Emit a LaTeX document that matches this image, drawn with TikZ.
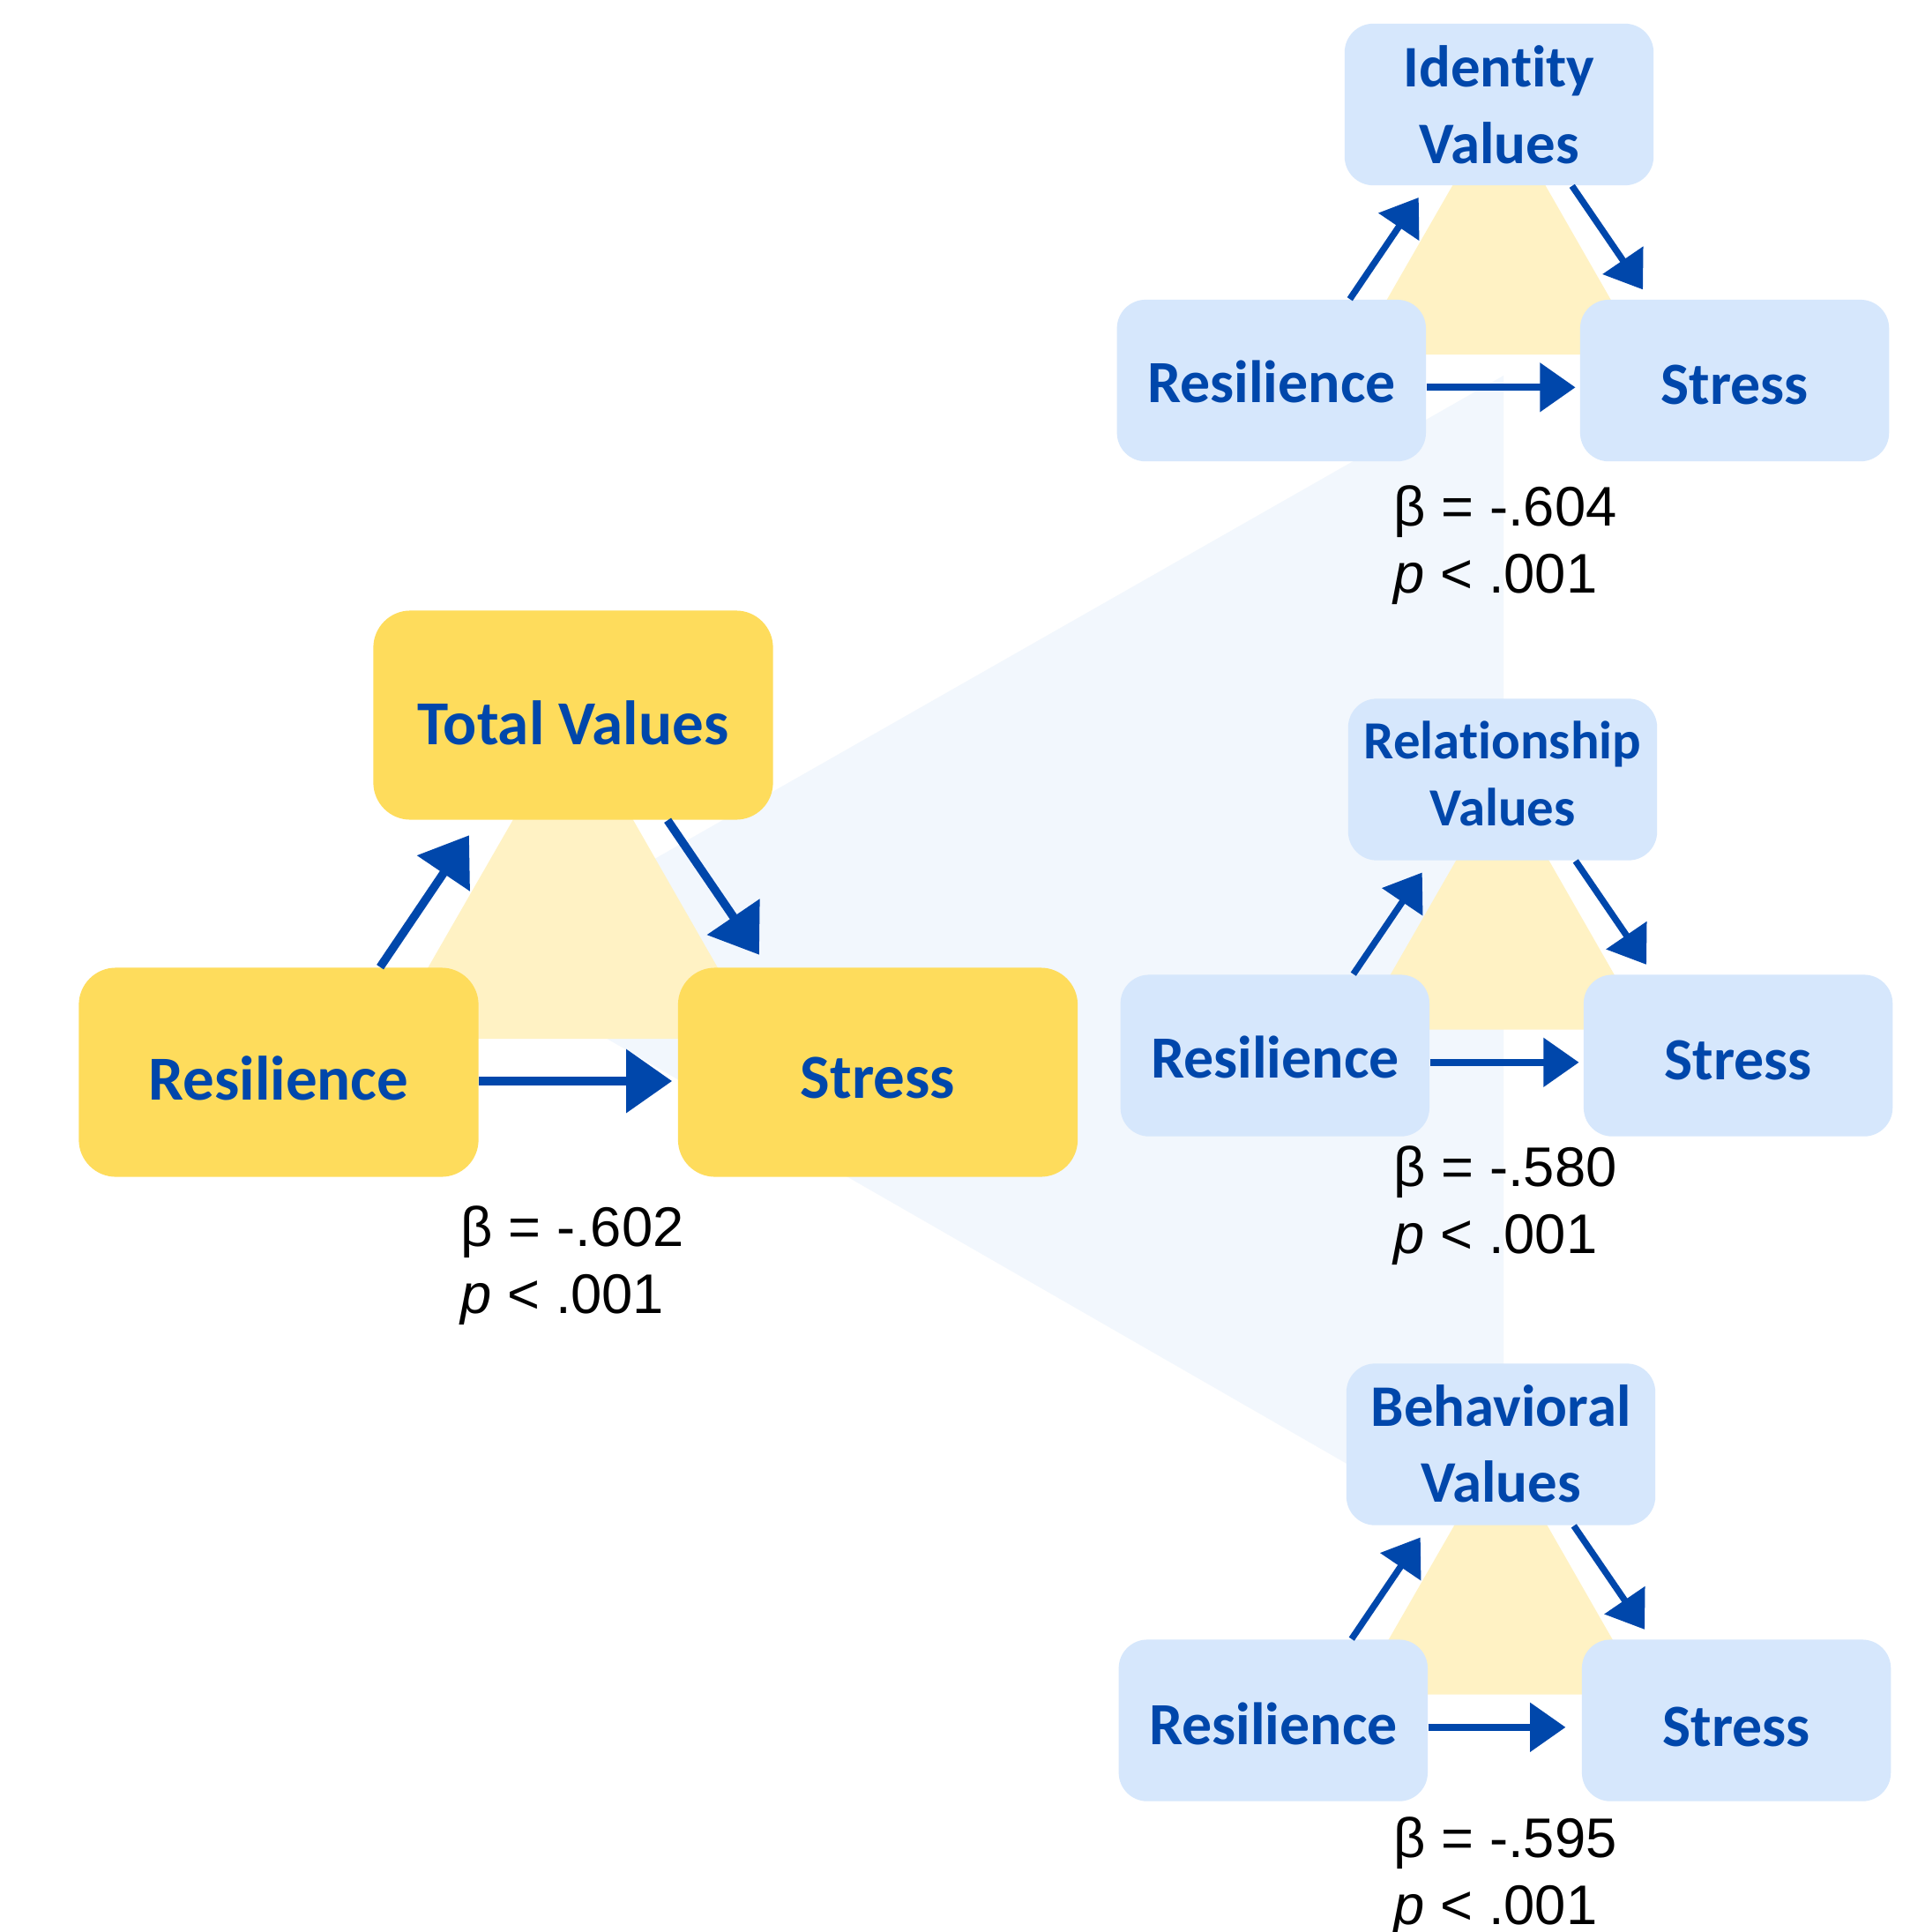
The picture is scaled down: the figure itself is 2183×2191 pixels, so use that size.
\documentclass[tikz,border=0pt]{standalone}
\usepackage{fontspec}
\setmainfont{Liberation Sans}
\newfontfamily\boxfont[Ligatures={NoCommon}]{Carlito}
\usetikzlibrary{arrows.meta}
\definecolor{boxyellow}{HTML}{FEDC5C}
\definecolor{triyellow}{HTML}{FFF2C4}
\definecolor{boxblue}{HTML}{D6E7FC}
\definecolor{darkblue}{HTML}{0047AB}
\definecolor{fanblue}{HTML}{F2F7FD}
\tikzset{
  lbl/.style={text=darkblue, inner sep=0pt},
  stat/.style={text=black, inner sep=0pt, anchor=base west, align=left, font=\fontsize{18}{21.5}\selectfont},
}
% [#1 gap of the direct arrow], #2 prefix, #3 X, #4 Y (px, downwards), #5 scale, #6 box colour
\newcommand\medgraph[6][0.06]{%
  \pgfmathsetmacro\mdW{4.53*#5}%
  \pgfmathsetmacro\mdH{2.37*#5}%
  \pgfmathsetmacro\mdR{0.42*#5}%
  \pgfmathsetmacro\mdHL{0.52*#5}%
  \pgfmathsetmacro\mdHW{0.70*#5}%
  \pgfmathsetmacro\mdLW{0.095*#5}%
  \pgfmathsetmacro\mdLH{0.10*#5}%
  \fill[triyellow] (#3,-#4) -- ({#3-211*#5},{-#4-367*#5}) -- ({#3+210*#5},{-#4-367*#5}) -- cycle;
  \node[fill=#6, rounded corners=\mdR cm, minimum width=\mdW cm, minimum height=\mdH cm, inner sep=0pt] (#2T) at (#3,-#4) {};
  \node[fill=#6, rounded corners=\mdR cm, minimum width=\mdW cm, minimum height=\mdH cm, inner sep=0pt] (#2R) at ({#3-334*#5},{-#4-405*#5}) {};
  \node[fill=#6, rounded corners=\mdR cm, minimum width=\mdW cm, minimum height=\mdH cm, inner sep=0pt] (#2S) at ({#3+345.5*#5},{-#4-405*#5}) {};
  \draw[darkblue, line width=\mdLW cm, -{Triangle[length=\mdHL cm,width=\mdHW cm]}]
    ([xshift={#5*1.15cm}]#2R.north) -- ([xshift={#5*(-1.18cm)}, yshift={#5*(-0.17cm)}]#2T.south);
  \draw[darkblue, line width=\mdLW cm, -{Triangle[length=\mdHL cm,width=\mdHW cm]}]
    ([xshift={#5*1.07cm}]#2T.south) -- ([xshift={#5*(-1.345cm)}, yshift={#5*0.14cm}]#2S.north);
  \draw[darkblue, line width=\mdLH cm, -{Triangle[length=\mdHL cm,width=\mdHW cm]}]
    ([yshift={#5*(-0.10cm)}]#2R.east) -- ([xshift={#5*(-#1cm)}, yshift={#5*(-0.10cm)}]#2S.west);
}
\begin{document}
\begin{tikzpicture}[x=0.01cm, y=0.01cm]
\useasboundingbox (0,0) rectangle (2183,-2191);
\fill[white] (0,0) rectangle (2183,-2191);
% fan
\fill[fanblue] (537,-1091) -- (1705,-426) -- (1705,-1762) -- cycle;

% main diagram
\medgraph{m}{650}{811}{1}{boxyellow}
\node[lbl, anchor=base, font=\boxfont\bfseries\fontsize{20.2}{25}\selectfont] (mTt) at ([yshift=-0.33cm]mT.center) {Total Values};
\node[lbl, anchor=base, font=\boxfont\bfseries\fontsize{20.2}{25}\selectfont] (mRt) at ([yshift=-0.31cm]mR.center) {Resilience};
\node[lbl, anchor=base, font=\boxfont\bfseries\fontsize{20.2}{25}\selectfont] (mSt) at ([yshift=-0.29cm]mS.center) {Stress};
\node[stat] (mB) at (522,-1489) {β = -.602\\{\itshape p} < .001};

% identity
\medgraph{i}{1700}{118.5}{0.773}{boxblue}
\node[lbl, anchor=base, align=center, font=\boxfont\bfseries\fontsize{19}{24.5}\selectfont] (iTt) at ([yshift=-0.665cm]iT.center) {Ident\kern0pt ity\\Values};
\node[lbl, anchor=base, font=\boxfont\bfseries\fontsize{19.3}{24}\selectfont] (iRt) at ([yshift=-0.25cm]iR.center) {Resilience};
\node[lbl, anchor=base, font=\boxfont\bfseries\fontsize{19.3}{24}\selectfont] (iSt) at ([yshift=-0.27cm]iS.center) {Stress};
\node[stat] (iB) at (1580,-672) {β = -.604\\{\itshape p} < .001};

% relationship
\medgraph{r}{1704}{884}{0.773}{boxblue}
\node[lbl, anchor=base, align=center, font=\boxfont\bfseries\fontsize{17.3}{21.6}\selectfont] (rTt) at ([yshift=-0.52cm]rT.center) {Relat\kern0pt ionship\\Values};
\node[lbl, anchor=base, font=\boxfont\bfseries\fontsize{19.3}{24}\selectfont] (rRt) at ([yshift=-0.25cm]rR.center) {Resilience};
\node[lbl, anchor=base, font=\boxfont\bfseries\fontsize{19.3}{24}\selectfont] (rSt) at ([yshift=-0.27cm]rS.center) {Stress};
\node[stat] (rB) at (1580,-1421) {β = -.580\\{\itshape p} < .001};

% behavioral
\medgraph[0.23]{b}{1702}{1638}{0.773}{boxblue}
\node[lbl, anchor=base, align=center, font=\boxfont\bfseries\fontsize{19}{24.5}\selectfont] (bTt) at ([yshift=-0.655cm]bT.center) {Behavioral\\Values};
\node[lbl, anchor=base, font=\boxfont\bfseries\fontsize{19.3}{24}\selectfont] (bRt) at ([yshift=-0.27cm]bR.center) {Resilience};
\node[lbl, anchor=base, font=\boxfont\bfseries\fontsize{19.3}{24}\selectfont] (bSt) at ([yshift=-0.29cm]bS.center) {Stress};
\node[stat] (bB) at (1580,-2182) {β = -.595\\{\itshape p} < .001};
\end{tikzpicture}
\end{document}
